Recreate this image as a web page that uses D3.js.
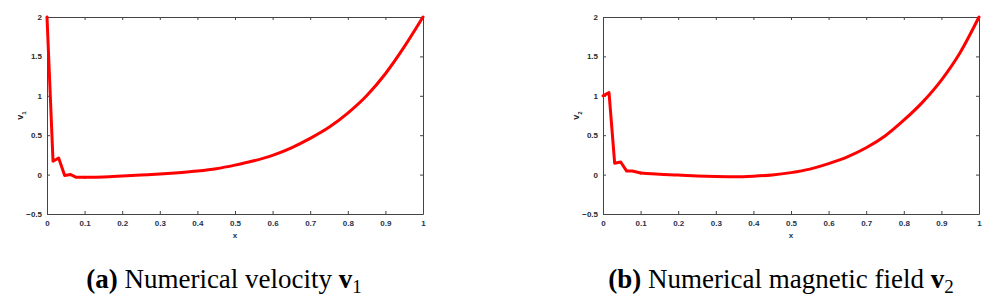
<!DOCTYPE html>
<html>
<head>
<meta charset="utf-8">
<script src="https://cdn.jsdelivr.net/npm/d3@7"></script>
<style>
body { margin: 0; background: #fff; }
svg { display: block; }
</style>
</head>
<body>
<div id="grafica"></div>
<script>
// datos
var xs = [0, 0.016, 0.031, 0.047, 0.063, 0.078, 0.1, 0.15, 0.2, 0.25, 0.3, 0.35, 0.4, 0.45, 0.5, 0.55, 0.6, 0.65, 0.7, 0.75, 0.8, 0.85, 0.9, 0.95, 1];
var v1 = [2, 0.17, 0.21, -0.01, 0.0, -0.035, -0.035, -0.03, -0.018, -0.005, 0.008, 0.025, 0.046, 0.075, 0.12, 0.175, 0.245, 0.34, 0.46, 0.6, 0.78, 1.0, 1.28, 1.62, 2];
var v2 = [1.0, 1.04, 0.145, 0.16, 0.045, 0.045, 0.02, 0.005, -0.005, -0.018, -0.025, -0.027, -0.02, -0.005, 0.025, 0.07, 0.14, 0.225, 0.34, 0.49, 0.69, 0.92, 1.2, 1.55, 2];
var xticks = [0, 0.1, 0.2, 0.3, 0.4, 0.5, 0.6, 0.7, 0.8, 0.9, 1];
var yticks = [-0.5, 0, 0.5, 1, 1.5, 2];
var corte = 6; // hasta aqui la curva es quebrada, despues suave
var paneles = [
	{ serie: v1, sub: '1', letra: '(a)', texto: ' Numerical velocity ', x0: 47, x1: 423, cx: 224 },
	{ serie: v2, sub: '2', letra: '(b)', texto: ' Numerical magnetic field ', x0: 603, x1: 979, cx: 781 }
];

var esevege = d3.select("#grafica")
	.append('svg')
	.attr("width", 1003)
	.attr("height", 302);

var arriba = 17, abajo = 214;
var gris = "#444";

paneles.forEach(function (p) {
	var x = d3.scaleLinear().domain([0, 1]).range([p.x0, p.x1]);
	var y = d3.scaleLinear().domain([-0.5, 2]).range([abajo, arriba]);
	var g = esevege.append("g");

	// ejes con ticks hacia adentro
	var ab = g.append("g").attr("transform", "translate(0," + abajo + ")")
		.call(d3.axisBottom(x).tickValues(xticks).tickSizeInner(-3).tickSizeOuter(0).tickPadding(6).tickFormat(d3.format("")));
	var ar = g.append("g").attr("transform", "translate(0," + arriba + ")")
		.call(d3.axisTop(x).tickValues(xticks).tickSizeInner(-3).tickSizeOuter(0).tickFormat(""));
	var iz = g.append("g").attr("transform", "translate(" + p.x0 + ",0)")
		.call(d3.axisLeft(y).tickValues(yticks).tickSizeInner(-3).tickSizeOuter(0).tickPadding(5).tickFormat(d3.format("")));
	var de = g.append("g").attr("transform", "translate(" + p.x1 + ",0)")
		.call(d3.axisRight(y).tickValues(yticks).tickSizeInner(-3).tickSizeOuter(0).tickFormat(""));
	[ab, ar, iz, de].forEach(function (a) {
		a.select(".domain").attr("stroke", gris).attr("stroke-width", 1);
		a.selectAll(".tick line").attr("stroke", gris);
		a.selectAll("text")
			.attr("font-family", "Liberation Sans, Arial, sans-serif")
			.attr("font-size", "8px")
			.attr("font-weight", "bold");
	});
	ab.selectAll("text").attr("fill", "#27324a");
	iz.selectAll("text").attr("fill", "#2a2a2a");

	// la curva: tramo quebrado + tramo suave
	var puntos = p.serie.map(function (d, i) { return [xs[i], d]; });
	var quebrada = d3.line()
		.x(function (d) { return x(d[0]); })
		.y(function (d) { return y(d[1]); });
	var suave = d3.line()
		.x(function (d) { return x(d[0]); })
		.y(function (d) { return y(d[1]); })
		.curve(d3.curveMonotoneX);
	[[puntos.slice(0, corte + 1), quebrada], [puntos.slice(corte), suave]].forEach(function (t) {
		g.append("path")
			.datum(t[0])
			.attr("d", t[1])
			.attr("fill", "none")
			.attr("stroke", "#ff0000")
			.attr("stroke-width", 3)
			.attr("stroke-linejoin", "round")
			.attr("stroke-linecap", "round");
	});

	// etiquetas de ejes
	g.append("text")
		.attr("x", x(0.5))
		.attr("y", 238)
		.attr("text-anchor", "middle")
		.attr("font-family", "Liberation Sans, Arial, sans-serif")
		.attr("font-size", "8px")
		.attr("font-weight", "bold")
		.attr("fill", "#27324a")
		.text("x");
	var yl = g.append("text")
		.attr("transform", "translate(" + (p.x0 - 24) + "," + y(0.75) + ") rotate(-90)")
		.attr("text-anchor", "middle")
		.attr("font-family", "Liberation Sans, Arial, sans-serif")
		.attr("font-size", "9px")
		.attr("font-weight", "bold")
		.attr("fill", "#222");
	yl.append("tspan").text("v");
	yl.append("tspan").attr("dy", 3).attr("font-size", "6px").text(p.sub);

	// pie de figura
	var cap = g.append("text")
		.attr("x", p.cx)
		.attr("y", 288)
		.attr("text-anchor", "middle")
		.attr("font-family", "Liberation Serif, Times New Roman, serif")
		.attr("font-size", "27px")
		.attr("fill", "#000");
	cap.append("tspan").attr("font-weight", "bold").text(p.letra);
	cap.append("tspan").text(p.texto);
	cap.append("tspan").attr("font-weight", "bold").text("v");
	cap.append("tspan").attr("dy", 5).attr("font-size", "19px").text(p.sub);
});
</script>
</body>
</html>
